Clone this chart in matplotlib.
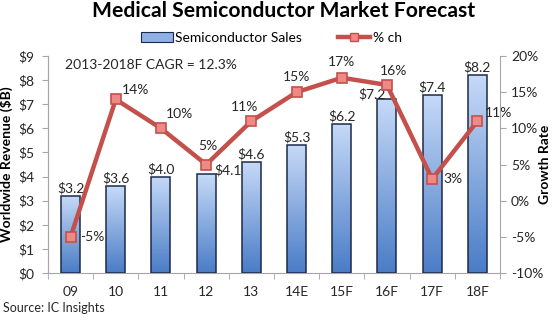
import numpy as np
import matplotlib
matplotlib.use("Agg")
import matplotlib.pyplot as plt
from matplotlib.patches import Patch
from matplotlib.lines import Line2D
from matplotlib.colors import LinearSegmentedColormap

plt.rcParams['font.family'] = ['Lato', 'DejaVu Sans']

# Data
years = ["09", "10", "11", "12", "13", "14E", "15F", "16F", "17F", "18F"]
sales = [3.2, 3.6, 4.0, 4.1, 4.6, 5.3, 6.2, 7.2, 7.4, 8.2]
growth = [-5, 14, 10, 5, 11, 15, 17, 16, 3, 11]
left_ticks = [0, 1, 2, 3, 4, 5, 6, 7, 8, 9]
right_ticks = [-10, -5, 0, 5, 10, 15, 20]

# Label offsets (points) for readability
sales_off = [(0, 1), (0, 1), (0, 1), (16, -2), (0, 1), (0, 1), (0, 1), (-11, -1), (0, 1), (0, 1)]
growth_off = [(16, 0), (14, 7), (13, 10), (1, 13), (-5, 10), (0, 11), (0, 11), (5, 10), (15, 0), (15, 6)]

line_col = "#c4504c"
gray = "#a6a6a6"
txt = "#262626"

fig = plt.figure(figsize=(5.54, 3.22), dpi=100)
ax = fig.add_axes([0.0866, 0.152, 0.8159, 0.674])
ax2 = ax.twinx()

x = np.arange(len(years))
bars = ax.bar(x, sales, width=0.42, color="none", edgecolor="#1c2a4a", linewidth=1.1, zorder=3)

grad = LinearSegmentedColormap.from_list("bl", ["#4a7cc6", "#c6daf8"])
gimg = np.linspace(0, 1, 256).reshape(-1, 1)
for b in bars:
    x0, w, h = b.get_x(), b.get_width(), b.get_height()
    im = ax.imshow(gimg, extent=[x0, x0 + w, 0, h], origin="lower", cmap=grad,
                   aspect="auto", zorder=2)
    im.set_clip_path(b)

for xi, v, (dx, dy) in zip(x, sales, sales_off):
    ax.annotate(f"${v:.1f}", (xi, v), xytext=(dx, dy), textcoords="offset points",
                ha="center", va="bottom", fontsize=10, color=txt)

ax.set_xlim(-0.5, len(years) - 0.5)
ax.set_ylim(0, 9)
ax.set_yticks(left_ticks)
ax.set_yticklabels([f"${t}" for t in left_ticks], fontsize=10, color=txt)
ax.set_xticks(x)
ax.set_xticklabels(years, fontsize=10, color=txt)
ax.set_xticks(np.arange(-0.5, len(years)), minor=True)
ax.tick_params(axis="x", which="major", length=0, pad=9)
ax.tick_params(axis="x", which="minor", length=4, color=gray, direction="out")
ax.tick_params(axis="y", length=4, color=gray, direction="out", pad=6)
ax.set_ylabel("Worldwide Revenue ($B)", fontsize=10, fontweight="bold")
ax.yaxis.set_label_coords(-0.078, 0.5)
ax.set_xlim(-0.5, len(years) - 0.5)

ax2.plot(x, growth, color=line_col, linewidth=3.2, marker="s", markersize=7,
         markerfacecolor="#ee8a86", markeredgecolor=line_col, markeredgewidth=1.2, zorder=5)
for xi, v, (dx, dy) in zip(x, growth, growth_off):
    ax2.annotate(f"{v}%", (xi, v), xytext=(dx, dy), textcoords="offset points",
                 ha="center", va="center", fontsize=10, color=txt)
ax2.set_ylim(-10, 20)
ax2.set_yticks(right_ticks)
ax2.set_yticklabels([f"{t}%" for t in right_ticks], fontsize=10, color=txt)
ax2.tick_params(axis="y", length=4, color=gray, direction="out", pad=4)
ax2.set_ylabel("Growth Rate", fontsize=10, fontweight="bold")
ax2.yaxis.set_label_coords(1.086, 0.5)

for a in (ax, ax2):
    a.spines["top"].set_visible(False)
    for s in ("left", "right", "bottom"):
        a.spines[s].set_color(gray)
ax2.spines["bottom"].set_visible(False)
ax.spines["right"].set_visible(False)

fig.text(0.511, 0.965, "Medical Semiconductor Market Forecast", ha="center", va="center",
         fontsize=15.2, fontweight="bold", color="#000000")

handles = [Patch(facecolor="#8fb0e6", edgecolor="#1c2a4a", linewidth=0.8),
           Line2D([0], [0], color=line_col, linewidth=3.2, marker="s", markersize=6,
                  markerfacecolor="#ee8a86", markeredgecolor=line_col)]
fig.legend(handles, ["Semiconductor Sales", "% ch"], loc="center", bbox_to_anchor=(0.49, 0.882),
           ncol=2, frameon=False, fontsize=10, handlelength=2.3, columnspacing=2.6,
           handletextpad=0.2)

ax.text(0.038, 0.958, "2013-2018F CAGR = 12.3%", transform=ax.transAxes, fontsize=10,
        ha="left", va="center", color=txt)

fig.text(0.005, 0.043, "Source: IC Insights", fontsize=9, ha="left", va="center", color=txt)

fig.savefig("out.png", dpi=100)
